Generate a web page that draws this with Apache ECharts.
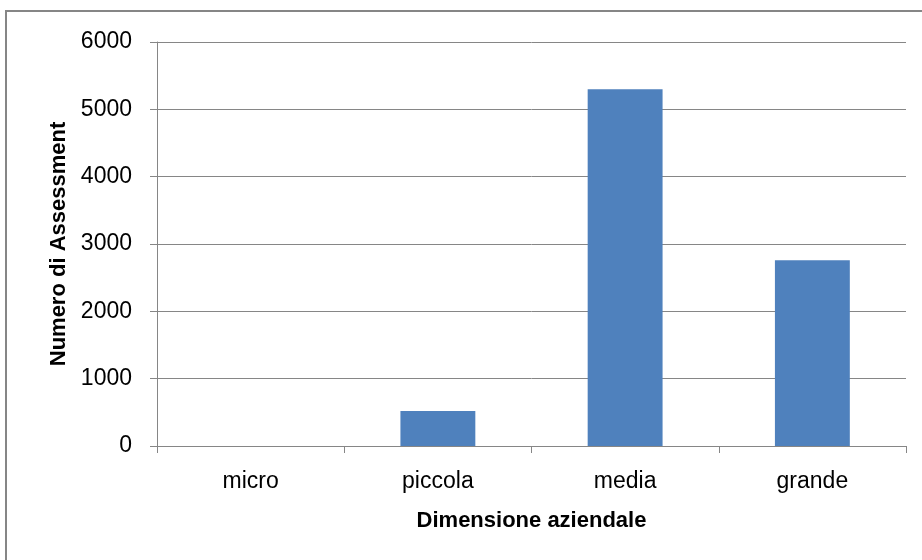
<!DOCTYPE html>
<html>
<head>
<meta charset="utf-8">
<script src="https://cdn.jsdelivr.net/npm/echarts@6/dist/echarts.min.js"></script>
<style>
  html, body { margin: 0; padding: 0; background: #fff; }
  #chart { width: 922px; height: 560px; }
</style>
</head>
<body>
<div id="chart"></div>
<script>
// Company size categories and assessment counts
const categories = ['micro', 'piccola', 'media', 'grande'];
const assessments = [0, 520, 5300, 2760];
const yTicks = { min: 0, max: 6000, interval: 1000 };

const labelFont = '"Liberation Sans", Arial, sans-serif';
const axisGray = '#868686';

const chart = echarts.init(document.getElementById('chart'), null, { renderer: 'canvas' });

chart.setOption({
  animation: false,
  backgroundColor: '#ffffff',
  graphic: [{
    type: 'rect',
    shape: { x: 6, y: 11, width: 1000, height: 1000 },
    style: { fill: 'none', stroke: axisGray, lineWidth: 2 },
    silent: true,
    z: 0
  }],
  grid: { left: 157, top: 42, right: 16, bottom: 114, containLabel: false },
  xAxis: {
    type: 'category',
    data: categories,
    name: 'Dimensione aziendale',
    nameLocation: 'middle',
    nameGap: 64,
    nameTextStyle: { fontFamily: labelFont, fontSize: 22, fontWeight: 'bold', color: '#000' },
    axisLine: { lineStyle: { color: axisGray, width: 1 } },
    axisTick: { show: true, length: 7, alignWithLabel: false, lineStyle: { color: axisGray } },
    axisLabel: { fontFamily: labelFont, fontSize: 23, color: '#000', margin: 24 }
  },
  yAxis: {
    type: 'value',
    min: yTicks.min,
    max: yTicks.max,
    interval: yTicks.interval,
    name: 'Numero di Assessment',
    nameLocation: 'middle',
    nameGap: 81,
    nameTextStyle: { fontFamily: labelFont, fontSize: 22, fontWeight: 'bold', color: '#000' },
    axisLine: { show: true, lineStyle: { color: axisGray, width: 1 } },
    axisTick: { show: true, length: 7, lineStyle: { color: axisGray } },
    axisLabel: {
      fontFamily: labelFont, fontSize: 23, color: '#000', margin: 25,
      formatter: (v) => String(v)
    },
    splitLine: { show: true, lineStyle: { color: axisGray, width: 1 } }
  },
  series: [{
    type: 'bar',
    data: assessments,
    barWidth: '40%',
    itemStyle: { color: '#4F81BD' }
  }]
});
</script>
</body>
</html>
